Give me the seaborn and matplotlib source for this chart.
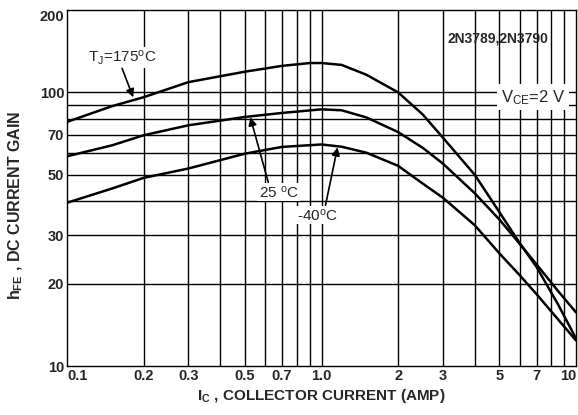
import numpy as np
import pandas as pd
import matplotlib
matplotlib.use("Agg")
import matplotlib.pyplot as plt
import seaborn as sns

# ---- data ----
ic_175 = [0.1, 0.15, 0.2, 0.3, 0.5, 0.7, 0.9, 1.0, 1.2, 1.5, 2.0, 2.5, 3.0, 4.0, 5.0, 6.0, 7.0, 8.5, 10]
hfe_175 = [78, 89, 96, 109, 119, 125, 128, 128, 126, 116, 100, 83, 68.3, 50, 36.5, 28.2, 23, 16.8, 12.6]

ic_25 = [0.1, 0.15, 0.2, 0.3, 0.5, 0.7, 1.0, 1.2, 1.5, 2.0, 2.5, 3.0, 4.0, 5.0, 6.0, 7.0, 8.5, 10]
hfe_25 = [58.4, 64, 69.7, 75.8, 81.3, 84.1, 86.7, 86, 81, 71.6, 62.7, 54.9, 42.8, 34.3, 28, 23.5, 18.8, 15.7]

ic_m40 = [0.1, 0.15, 0.2, 0.3, 0.5, 0.7, 1.0, 1.2, 1.5, 2.0, 2.5, 3.0, 4.0, 5.0, 6.0, 7.0, 8.5, 10]
hfe_m40 = [39.5, 44.5, 48.7, 52.7, 59.7, 63.2, 64.5, 63.3, 60.2, 53.9, 46.4, 41.2, 32.7, 25.8, 21.5, 18.3, 14.8, 12.4]

temps = ["175", "25", "-40"]
x_ticks = [0.1, 0.2, 0.3, 0.5, 0.7, 1.0, 2, 3, 5, 7, 10]
x_ticklabels = ["0.1", "0.2", "0.3", "0.5", "0.7", "1.0", "2", "3", "5", "7", "10"]
y_ticks = [10, 20, 30, 50, 70, 100, 200]
y_ticklabels = ["10", "20", "30", "50", "70", "100", "200"]
x_grid = [0.2, 0.3, 0.4, 0.5, 0.6, 0.7, 0.8, 0.9, 1.0, 2, 3, 4, 5, 6, 7, 8, 9]
y_grid = [20, 30, 40, 50, 60, 70, 80, 90, 100]

df = pd.concat([
    pd.DataFrame({"ic": ic_175, "hfe": hfe_175, "temp": temps[0]}),
    pd.DataFrame({"ic": ic_25, "hfe": hfe_25, "temp": temps[1]}),
    pd.DataFrame({"ic": ic_m40, "hfe": hfe_m40, "temp": temps[2]}),
], ignore_index=True)

sns.set_style("white")
plt.rcParams["font.family"] = ["Liberation Sans", "DejaVu Sans"]
plt.rcParams["mathtext.fontset"] = "custom"
plt.rcParams["mathtext.rm"] = "Liberation Sans"
plt.rcParams["mathtext.bf"] = "Liberation Sans:bold"
plt.rcParams["mathtext.it"] = "Liberation Sans:italic"

fig = plt.figure(figsize=(5.78, 4.15), dpi=100)
ax = fig.add_axes([67 / 578, 49 / 415, 509 / 578, 356 / 415])

ax.set_xscale("log")
ax.set_yscale("log")
ax.set_xlim(0.1, 10)
ax.set_ylim(10, 200)

for g in x_grid:
    ax.axvline(g, color="black", lw=1.0, zorder=1)
for g in y_grid:
    ax.axhline(g, color="black", lw=1.0, zorder=1)

sns.lineplot(data=df, x="ic", y="hfe", hue="temp", palette=["black"] * 3,
             estimator=None, sort=False, legend=False, lw=1.8, ax=ax, zorder=3)

ax.set_xticks(x_ticks)
ax.set_xticklabels(x_ticklabels)
ax.set_yticks(y_ticks)
ax.set_yticklabels(y_ticklabels)
ax.minorticks_off()
ax.tick_params(length=0, labelsize=10.5, pad=2)
for lab in ax.get_xticklabels() + ax.get_yticklabels():
    lab.set_fontweight("bold")
ax.get_xticklabels()[0].set_horizontalalignment("left")
ax.get_xticklabels()[-1].set_horizontalalignment("right")
ax.get_yticklabels()[-1].set_verticalalignment("top")

for s in ax.spines.values():
    s.set_color("black")
    s.set_linewidth(1.0)

ax.set_xlabel("")
ax.set_ylabel("")
fig.text(0.555, 0.045, r"I$_{\mathbf{C}}$ , COLLECTOR CURRENT (AMP)", ha="center", va="center",
         fontsize=11, fontweight="bold")
fig.text(0.027, 0.505, r"h$_{\mathbf{FE}}$ , DC CURRENT GAIN", ha="center", va="center",
         rotation=90, fontsize=11.5, fontweight="bold")

box = dict(facecolor="white", edgecolor="none", pad=1.0)
arrow = dict(arrowstyle="-|>", color="black", lw=1.2, mutation_scale=12, shrinkA=0, shrinkB=0)

ax.text(0.1646, 134, r"T$_\mathregular{J}$=175$^\mathregular{o}$C", ha="center", va="center",
        fontsize=11, bbox=box, zorder=5)
ax.annotate("", xy=(0.182, 95.9), xytext=(0.1646, 122.4), arrowprops=arrow, zorder=6)

ax.text(0.678, 43.2, r"25 $^\mathregular{o}$C", ha="center", va="center",
        fontsize=11, bbox=box, zorder=5)
ax.annotate("", xy=(0.525, 81.1), xytext=(0.618, 46.9), arrowprops=arrow, zorder=6)

ax.text(0.964, 35.6, r"-40$^\mathregular{o}$C", ha="center", va="center",
        fontsize=11, bbox=box, zorder=5)
ax.annotate("", xy=(1.156, 63.0), xytext=(1.037, 38.7), arrowprops=arrow, zorder=6)

ax.text(4.93, 157, "2N3789,2N3790", ha="center", va="center", fontsize=10,
        fontweight="bold", fontstretch="condensed",
        family=["Liberation Sans Narrow", "Liberation Sans"], zorder=5)
ax.text(6.77, 95.9, r"V$_\mathregular{CE}$=2 V", ha="center", va="center",
        fontsize=12, bbox=dict(facecolor="white", edgecolor="none", pad=2.5), zorder=5)

fig.savefig("out.png", dpi=100)
